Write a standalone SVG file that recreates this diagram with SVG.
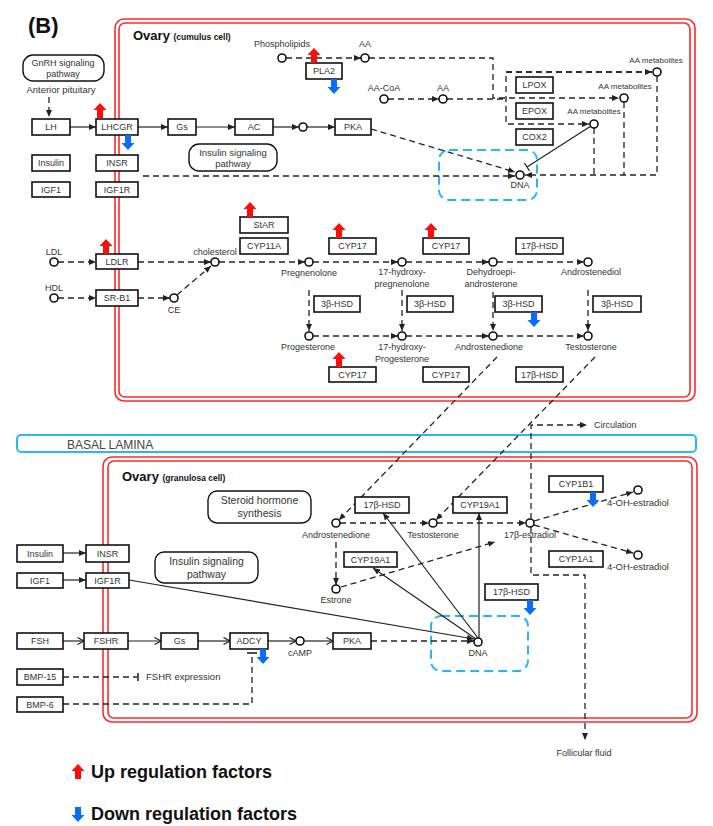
<svg xmlns="http://www.w3.org/2000/svg" width="713" height="826" viewBox="0 0 713 826">
<style>
text{font-family:"Liberation Sans",Arial,sans-serif;fill:#333;font-size:9px}
.m{text-anchor:middle}
.b{fill:#fff;stroke:#111;stroke-width:1.6}
.r{fill:#fff;stroke:#111;stroke-width:1.4}
.c{fill:#fff;stroke:#111;stroke-width:1.6}
.s{fill:none;stroke:#222;stroke-width:1.2}
.d{fill:none;stroke:#222;stroke-width:1.3;stroke-dasharray:6 4}
.red{fill:none;stroke:#ff2a2a;stroke-width:1.6}
.blu{fill:none;stroke:#29b6f6;stroke-width:2}
.bd{fill:none;stroke:#29b6f6;stroke-width:2;stroke-dasharray:9 5}
.sm{font-size:8px}
</style>
<defs>
<marker id="a" markerUnits="userSpaceOnUse" markerWidth="8" markerHeight="7" refX="7" refY="3.5" orient="auto"><path d="M0,0.5 L7,3.5 L0,6.5 Z" fill="#222"/></marker>
<marker id="o" markerUnits="userSpaceOnUse" markerWidth="9" markerHeight="9" refX="7.5" refY="4.5" orient="auto"><path d="M1,1 L7.5,4.5 L1,8" fill="none" stroke="#222" stroke-width="1.2"/></marker>
<path id="up" d="M0,0 L6.5,7 L3,7 L3,15 L-3,15 L-3,7 L-6.5,7 Z" fill="#ff0d0d"/>
<path id="dn" d="M0,15 L6.5,8 L3,8 L3,0 L-3,0 L-3,8 L-6.5,8 Z" fill="#0a6cff"/>
</defs>

<text x="28" y="33" style="font-size:22px;font-weight:bold;fill:#111">(B)</text>

<!-- cell frames -->
<g id="cumulus-frame">
<rect class="red" x="115" y="19" width="580" height="382" rx="9"/>
<rect class="red" x="119" y="23" width="571" height="374" rx="6"/>
</g>
<g id="granulosa-frame">
<rect class="red" x="103" y="457" width="594" height="265" rx="9"/>
<rect class="red" x="108" y="461" width="584" height="257" rx="6"/>
</g>

<!-- compartments -->
<g id="basal-lamina">
<rect class="blu" x="17" y="435" width="679" height="17" rx="4"/>
<text x="67" y="449" style="font-size:12px;fill:#444">BASAL LAMINA</text>
</g>
<g id="cumulus-title"><text x="133" y="40" style="font-size:13px;font-weight:bold;fill:#111">Ovary <tspan style="font-size:8.5px">(cumulus cell)</tspan></text></g>
<g id="granulosa-title"><text x="122" y="481" style="font-size:13px;font-weight:bold;fill:#111">Ovary <tspan style="font-size:8.5px">(granulosa cell)</tspan></text></g>

<!-- DNA regions -->
<rect class="bd" x="439" y="150" width="98" height="50" rx="10"/>
<rect class="bd" x="431" y="616" width="97" height="55" rx="10"/>

<!-- connectors -->
<g id="connectors">
<path class="d" d="M49,97 V117" marker-end="url(#a)"/>
<path class="s" d="M70,127 H96" marker-end="url(#a)"/>
<path class="s" d="M138,127 H168" marker-end="url(#a)"/>
<path class="s" d="M196,127 H235" marker-end="url(#a)"/>
<path class="s" d="M273,127 H299" marker-end="url(#a)"/>
<path class="s" d="M307,127 H335" marker-end="url(#a)"/>
<path class="d" d="M371,129 L515,172" marker-end="url(#a)"/>
<path class="d" d="M143,176 H515" marker-end="url(#a)"/>
<path class="d" d="M286,58 H361" marker-end="url(#a)"/>
<path class="d" d="M369,58 H493 V98 H619" marker-end="url(#a)"/>
<path class="d" d="M388,99 H439" marker-end="url(#a)"/>
<path class="d" d="M447,99 H506"/>
<path class="d" d="M652,72 H506 V124 H589" marker-end="url(#a)"/>
<path class="d" d="M506,72 H652" marker-end="url(#a)"/>
<path class="d" d="M657,76 V175 H525" marker-end="url(#a)"/>
<path class="d" d="M624,102 V175"/>
<path class="d" d="M594,128 V175"/>
<path class="s" d="M591,126 L527,167"/>
<path class="s" d="M524.5,163 L529.5,171"/>

<path class="d" d="M58,262 H96" marker-end="url(#a)"/>
<path class="d" d="M138,262 H211" marker-end="url(#a)"/>
<path class="d" d="M58,298 H96" marker-end="url(#a)"/>
<path class="d" d="M138,298 H170" marker-end="url(#a)"/>
<path class="d" d="M177,295 L211,266" marker-end="url(#a)"/>
<path class="d" d="M219,262 H305" marker-end="url(#a)"/>
<path class="d" d="M313,262 H398" marker-end="url(#a)"/>
<path class="d" d="M406,262 H489" marker-end="url(#a)"/>
<path class="d" d="M497,262 H584" marker-end="url(#a)"/>
<path class="d" d="M309,290 V331" marker-end="url(#a)"/>
<path class="d" d="M402,290 V331" marker-end="url(#a)"/>
<path class="d" d="M493,292 V331" marker-end="url(#a)"/>
<path class="d" d="M588,290 V331" marker-end="url(#a)"/>
<path class="d" d="M313,336 H398" marker-end="url(#a)"/>
<path class="d" d="M406,336 H489" marker-end="url(#a)"/>
<path class="d" d="M497,336 H584" marker-end="url(#a)"/>

<path class="d" d="M497,357 L339,520" marker-end="url(#a)"/>
<path class="d" d="M595,357 L436,520" marker-end="url(#a)"/>
<path class="d" d="M340,523 H429" marker-end="url(#a)"/>
<path class="d" d="M437,523 H526" marker-end="url(#a)"/>
<path class="d" d="M336,542 V585" marker-end="url(#a)"/>
<path class="d" d="M341,587 L495,542" marker-end="url(#a)"/>
<path class="d" d="M534,521 L633,492" marker-end="url(#a)"/>
<path class="d" d="M534,525 L633,553" marker-end="url(#a)"/>
<path class="d" d="M531,519 V425 H587" marker-end="url(#a)"/>
<path class="d" d="M531,527 V575 H585 V740" marker-end="url(#a)"/>
<path class="s" d="M478,638 L383,513" marker-end="url(#a)"/>
<path class="s" d="M476,639 L373,568" marker-end="url(#a)"/>
<path class="s" d="M479,638 V513" marker-end="url(#a)"/>
<path class="s" d="M129,580 L474,639" marker-end="url(#a)"/>
<path class="s" d="M63,553 H86" marker-end="url(#a)"/>
<path class="s" d="M63,580 H86" marker-end="url(#a)"/>

<path class="s" d="M63,641 H84" marker-end="url(#o)"/>
<path class="s" d="M128,641 H161" marker-end="url(#o)"/>
<path class="s" d="M198,641 H230" marker-end="url(#o)"/>
<path class="s" d="M268,641 H296" marker-end="url(#o)"/>
<path class="s" d="M304,641 H333" marker-end="url(#o)"/>
<path class="d" d="M371,641 H474" marker-end="url(#a)"/>
<path class="d" d="M63,677 H137"/>
<path class="s" d="M138,673 V681" style="stroke-width:1.6"/>
<path class="d" d="M63,704 H252 V655"/>
<path class="s" d="M247,653 H257" style="stroke-width:1.6"/>
</g>

<!-- cumulus nodes -->
<g id="gnrh"><rect class="r" x="23" y="55" width="81" height="26" rx="10"/><text class="m" x="63" y="66">GnRH signaling</text><text class="m" x="63" y="77">pathway</text></g>
<g id="anterior-pituitary"><text class="m" x="61" y="93" style="font-size:9.5px">Anterior pituitary</text></g>
<g id="lh"><rect class="b" x="32" y="119" width="38" height="16"/><text class="m" x="51" y="130">LH</text></g>
<g id="lhcgr"><rect class="b" x="96" y="119" width="42" height="16"/><text class="m" x="117" y="130">LHCGR</text></g>
<g id="gs1"><rect class="b" x="168" y="119" width="28" height="16"/><text class="m" x="182" y="130">Gs</text></g>
<g id="ac"><rect class="b" x="235" y="119" width="38" height="16"/><text class="m" x="254" y="130">AC</text></g>
<g id="camp1"><circle class="c" cx="303" cy="127" r="4"/></g>
<g id="pka1"><rect class="b" x="335" y="119" width="36" height="16"/><text class="m" x="353" y="130">PKA</text></g>
<g id="insulin1"><rect class="b" x="32" y="155" width="38" height="16"/><text class="m" x="51" y="166">Insulin</text></g>
<g id="insr1"><rect class="b" x="96" y="155" width="42" height="16"/><text class="m" x="117" y="166">INSR</text></g>
<g id="igf1-1"><rect class="b" x="32" y="182" width="38" height="15"/><text class="m" x="51" y="193">IGF1</text></g>
<g id="igf1r1"><rect class="b" x="96" y="182" width="42" height="15"/><text class="m" x="117" y="193">IGF1R</text></g>
<g id="insulin-path1"><rect class="r" x="189" y="144" width="88" height="27" rx="10"/><text class="m" x="233" y="156" style="font-size:9.5px">Insulin signaling</text><text class="m" x="233" y="167" style="font-size:9.5px">pathway</text></g>

<g id="phospholipids"><circle class="c" cx="282" cy="58" r="4"/><text class="m" x="282" y="47">Phospholipids</text></g>
<g id="aa1"><circle class="c" cx="365" cy="58" r="4"/><text class="m" x="365" y="47">AA</text></g>
<g id="pla2"><rect class="b" x="306" y="63" width="36" height="16"/><text class="m" x="324" y="74">PLA2</text></g>
<g id="aacoa"><circle class="c" cx="384" cy="99" r="4"/><text class="m" x="384" y="91">AA-CoA</text></g>
<g id="aa2"><circle class="c" cx="443" cy="99" r="4"/><text class="m" x="443" y="91">AA</text></g>
<g id="lpox"><rect class="b" x="516" y="77" width="37" height="16"/><text class="m" x="534.5" y="88">LPOX</text></g>
<g id="epox"><rect class="b" x="516" y="103" width="37" height="16"/><text class="m" x="534.5" y="114">EPOX</text></g>
<g id="cox2"><rect class="b" x="516" y="129" width="37" height="16"/><text class="m" x="534.5" y="140">COX2</text></g>
<g id="aam1"><circle class="c" cx="657" cy="72" r="4"/><text class="m sm" x="656" y="63">AA metabolites</text></g>
<g id="aam2"><circle class="c" cx="624" cy="98" r="4"/><text class="m sm" x="625" y="89">AA metabolites</text></g>
<g id="aam3"><circle class="c" cx="594" cy="124" r="4"/><text class="m sm" x="594" y="114">AA metabolites</text></g>
<g id="dna1"><circle class="c" cx="520" cy="175" r="4"/><text class="m" x="520" y="188">DNA</text></g>

<g id="star"><rect class="b" x="240" y="217" width="48" height="16"/><text class="m" x="264" y="228">StAR</text></g>
<g id="cyp11a"><rect class="b" x="240" y="238" width="48" height="16"/><text class="m" x="264" y="249">CYP11A</text></g>
<g id="cyp17a"><rect class="b" x="329" y="238" width="47" height="16"/><text class="m" x="352.5" y="249">CYP17</text></g>
<g id="cyp17b"><rect class="b" x="423" y="238" width="46" height="16"/><text class="m" x="446" y="249">CYP17</text></g>
<g id="hsd17a"><rect class="b" x="516" y="238" width="47" height="16"/><text class="m" x="539.5" y="249">17β-HSD</text></g>
<g id="ldl"><circle class="c" cx="54" cy="262" r="4"/><text class="m" x="54" y="255">LDL</text></g>
<g id="hdl"><circle class="c" cx="54" cy="298" r="4"/><text class="m" x="54" y="291">HDL</text></g>
<g id="ldlr"><rect class="b" x="96" y="254" width="42" height="15"/><text class="m" x="117" y="265">LDLR</text></g>
<g id="srb1"><rect class="b" x="96" y="290" width="42" height="16"/><text class="m" x="117" y="301">SR-B1</text></g>
<g id="ce"><circle class="c" cx="174" cy="298" r="4"/><text class="m" x="174" y="313">CE</text></g>
<g id="cholesterol"><circle class="c" cx="215" cy="262" r="4"/><text class="m" x="215" y="255">cholesterol</text></g>
<g id="pregnenolone"><circle class="c" cx="309" cy="262" r="4"/><text class="m" x="309" y="276">Pregnenolone</text></g>
<g id="ohpreg"><circle class="c" cx="402" cy="262" r="4"/><text class="m" x="402" y="275">17-hydroxy-</text><text class="m" x="402" y="287">pregnenolone</text></g>
<g id="dhea"><circle class="c" cx="493" cy="262" r="4"/><text class="m" x="491" y="275">Dehydroepi-</text><text class="m" x="491" y="287">androsterone</text></g>
<g id="androstenediol"><circle class="c" cx="588" cy="262" r="4"/><text class="m" x="591" y="275">Androstenediol</text></g>
<g id="hsd3a"><rect class="b" x="314" y="296" width="46" height="16"/><text class="m" x="337" y="307">3β-HSD</text></g>
<g id="hsd3b"><rect class="b" x="407" y="296" width="46" height="16"/><text class="m" x="430" y="307">3β-HSD</text></g>
<g id="hsd3c"><rect class="b" x="495" y="296" width="47" height="16"/><text class="m" x="518.5" y="307">3β-HSD</text></g>
<g id="hsd3d"><rect class="b" x="593" y="296" width="48" height="16"/><text class="m" x="617" y="307">3β-HSD</text></g>
<g id="progesterone"><circle class="c" cx="309" cy="336" r="4"/><text class="m" x="308" y="350">Progesterone</text></g>
<g id="ohprog"><circle class="c" cx="402" cy="336" r="4"/><text class="m" x="402" y="350">17-hydroxy-</text><text class="m" x="402" y="362">Progesterone</text></g>
<g id="androstenedione1"><circle class="c" cx="493" cy="336" r="4"/><text class="m" x="489" y="350">Androstenedione</text></g>
<g id="testosterone1"><circle class="c" cx="588" cy="336" r="4"/><text class="m" x="591" y="350">Testosterone</text></g>
<g id="cyp17c"><rect class="b" x="329" y="367" width="47" height="15"/><text class="m" x="352.5" y="378">CYP17</text></g>
<g id="cyp17d"><rect class="b" x="423" y="367" width="46" height="15"/><text class="m" x="446" y="378">CYP17</text></g>
<g id="hsd17b"><rect class="b" x="516" y="367" width="47" height="15"/><text class="m" x="539.5" y="378">17β-HSD</text></g>

<!-- granulosa nodes -->
<g id="steroid-synth"><rect class="r" x="208" y="491" width="103" height="32" rx="9"/><text class="m" x="259.5" y="504" style="font-size:10.5px">Steroid hormone</text><text class="m" x="259.5" y="517" style="font-size:10.5px">synthesis</text></g>
<g id="insulin-path2"><rect class="r" x="155" y="552" width="103" height="31" rx="9"/><text class="m" x="206.5" y="565" style="font-size:10.5px">Insulin signaling</text><text class="m" x="206.5" y="578" style="font-size:10.5px">pathway</text></g>
<g id="insulin2"><rect class="b" x="17" y="545" width="46" height="17"/><text class="m" x="40" y="557">Insulin</text></g>
<g id="insr2"><rect class="b" x="86" y="545" width="43" height="17"/><text class="m" x="107.5" y="557">INSR</text></g>
<g id="igf1-2"><rect class="b" x="17" y="573" width="46" height="15"/><text class="m" x="40" y="584">IGF1</text></g>
<g id="igf1r2"><rect class="b" x="86" y="573" width="43" height="15"/><text class="m" x="107.5" y="584">IGF1R</text></g>
<g id="hsd17c"><rect class="b" x="355" y="497" width="54" height="16"/><text class="m" x="382" y="508">17β-HSD</text></g>
<g id="cyp19a"><rect class="b" x="453" y="497" width="54" height="16"/><text class="m" x="480" y="508">CYP19A1</text></g>
<g id="cyp19b"><rect class="b" x="344" y="552" width="53" height="15"/><text class="m" x="370.5" y="563">CYP19A1</text></g>
<g id="cyp1b1"><rect class="b" x="549" y="476" width="54" height="16"/><text class="m" x="576" y="487">CYP1B1</text></g>
<g id="cyp1a1"><rect class="b" x="549" y="551" width="54" height="16"/><text class="m" x="576" y="562">CYP1A1</text></g>
<g id="hsd17d"><rect class="b" x="485" y="584" width="53" height="16"/><text class="m" x="511.5" y="595">17β-HSD</text></g>
<g id="androstenedione2"><circle class="c" cx="336" cy="523" r="4"/><text class="m" x="336" y="538">Androstenedione</text></g>
<g id="testosterone2"><circle class="c" cx="433" cy="523" r="4"/><text class="m" x="433" y="538">Testosterone</text></g>
<g id="estradiol"><circle class="c" cx="530" cy="523" r="4"/><text class="m" x="530" y="538">17β-estradiol</text></g>
<g id="estrone"><circle class="c" cx="336" cy="589" r="4"/><text class="m" x="336" y="603">Estrone</text></g>
<g id="ohe1"><circle class="c" cx="638" cy="490" r="4"/><text class="m" x="638" y="506" style="font-size:9.5px">4-OH-estradiol</text></g>
<g id="ohe2"><circle class="c" cx="638" cy="555" r="4"/><text class="m" x="638" y="570" style="font-size:9.5px">4-OH-estradiol</text></g>
<g id="circulation"><text x="594" y="428">Circulation</text></g>
<g id="follicular"><text class="m" x="584" y="756">Follicular fluid</text></g>
<g id="dna2"><circle class="c" cx="478" cy="642" r="4"/><text class="m" x="478" y="656">DNA</text></g>
<g id="fsh"><rect class="b" x="17" y="633" width="46" height="16"/><text class="m" x="40" y="644">FSH</text></g>
<g id="fshr"><rect class="b" x="84" y="633" width="44" height="16"/><text class="m" x="106" y="644">FSHR</text></g>
<g id="gs2"><rect class="b" x="161" y="633" width="37" height="16"/><text class="m" x="179.5" y="644">Gs</text></g>
<g id="adcy"><rect class="b" x="230" y="633" width="38" height="16"/><text class="m" x="249" y="644">ADCY</text></g>
<g id="camp2"><circle class="c" cx="300" cy="641" r="4"/><text class="m" x="300" y="656">cAMP</text></g>
<g id="pka2"><rect class="b" x="333" y="633" width="38" height="16"/><text class="m" x="352" y="644">PKA</text></g>
<g id="bmp15"><rect class="b" x="17" y="669" width="46" height="16"/><text class="m" x="40" y="680">BMP-15</text></g>
<g id="bmp6"><rect class="b" x="17" y="697" width="46" height="15"/><text class="m" x="40" y="708">BMP-6</text></g>
<g id="fshr-expr"><text x="146" y="680" style="font-size:9.5px">FSHR expression</text></g>

<!-- regulation arrows -->
<g id="up-arrows">
<use href="#up" transform="translate(100,103)"/>
<use href="#up" transform="translate(314,48)"/>
<use href="#up" transform="translate(250,202)"/>
<use href="#up" transform="translate(106,239)"/>
<use href="#up" transform="translate(339,223)"/>
<use href="#up" transform="translate(431,223)"/>
<use href="#up" transform="translate(339,352)"/>
</g>
<g id="down-arrows">
<use href="#dn" transform="translate(128,135)"/>
<use href="#dn" transform="translate(334,79)"/>
<use href="#dn" transform="translate(534,312)"/>
<use href="#dn" transform="translate(593,492)"/>
<use href="#dn" transform="translate(530,600)"/>
<use href="#dn" transform="translate(263,649)"/>
</g>

<g id="legend">
<use href="#up" transform="translate(78,764)"/>
<text x="91" y="778" style="font-size:18px;font-weight:bold;fill:#111">Up regulation factors</text>
<use href="#dn" transform="translate(78,807)"/>
<text x="91" y="820" style="font-size:18px;font-weight:bold;fill:#111">Down regulation factors</text>
</g>
</svg>
